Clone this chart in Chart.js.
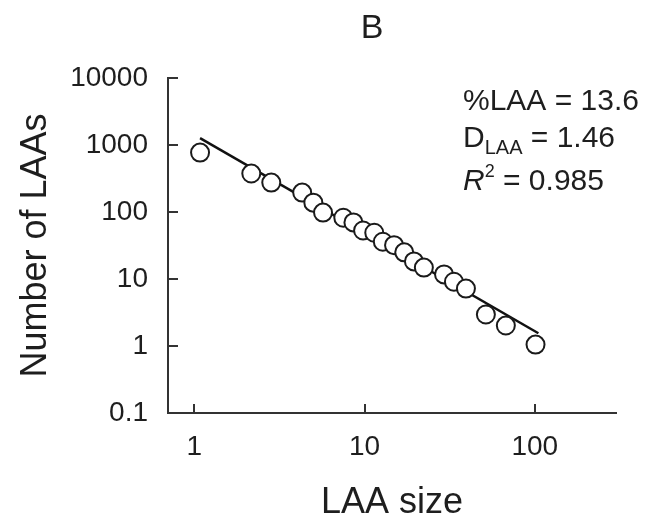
<!DOCTYPE html>
<html>
<head>
<meta charset="utf-8">
<script src="https://cdn.jsdelivr.net/npm/chart.js@4.4.1/dist/chart.umd.min.js"></script>
<style>
  html, body { margin: 0; padding: 0; background: #fff; }
  #wrap { width: 651px; height: 522px; }
</style>
</head>
<body>
<div id="wrap"><canvas id="laaChart" width="651" height="522"></canvas></div>
<script>
// LAA size distribution (log-log)
const laaSize = [1.08, 2.16, 2.83, 4.3, 5.0, 5.7, 7.5, 8.6, 9.8, 11.4, 12.8, 14.9, 17.1, 19.5, 22.3, 29.3, 33.5, 39.4, 51.6, 67.6, 101];
const laaCount = [770, 375, 275, 195, 138, 98, 82, 70, 53, 49, 36, 32, 25, 18.3, 14.8, 11.7, 9.1, 7.2, 2.95, 2.02, 1.05];

// fitted power law, end points
const fitX = [1.08, 105];
const fitY = [1270, 1.55];

const xTickVals = [1, 10, 100];
const yTickVals = [0.1, 1, 10, 100, 1000, 10000];

const panelLabel = "B";
const statLines = ["%LAA = 13.6", "1.46", "0.985"];

const FONT = "'Liberation Sans', Arial, sans-serif";
const INK = "#1e1e1e";

function fmtTick(v) {
  return v < 1 ? String(v) : String(Math.round(v));
}

// inward tick marks + panel text
const extrasPlugin = {
  id: "extras",
  afterDraw(chart) {
    const ctx = chart.ctx;
    const xs = chart.scales.x;
    const ys = chart.scales.y;
    const area = chart.chartArea;

    ctx.save();
    ctx.strokeStyle = "#333";
    ctx.lineWidth = 2;
    ctx.beginPath();
    xTickVals.forEach((v) => {
      const px = Math.round(xs.getPixelForValue(v));
      ctx.moveTo(px, area.bottom);
      ctx.lineTo(px, area.bottom - 9);
    });
    yTickVals.forEach((v) => {
      const py = Math.round(ys.getPixelForValue(v));
      ctx.moveTo(area.left, py);
      ctx.lineTo(area.left + 10, py);
    });
    ctx.stroke();

    ctx.fillStyle = INK;
    ctx.textBaseline = "middle";
    ctx.textAlign = "center";
    ctx.font = `34px ${FONT}`;
    ctx.fillText(panelLabel, 372, 29);

    ctx.textAlign = "left";
    ctx.textBaseline = "alphabetic";
    const x0 = 463;
    ctx.font = `30px ${FONT}`;
    ctx.fillText(statLines[0], x0, 110);

    // D with subscript
    let x = x0;
    ctx.font = `30px ${FONT}`;
    ctx.fillText("D", x, 147);
    x += ctx.measureText("D").width;
    ctx.font = `20px ${FONT}`;
    ctx.fillText("LAA", x, 154);
    x += ctx.measureText("LAA").width;
    ctx.font = `30px ${FONT}`;
    ctx.fillText(" = " + statLines[1], x, 147);

    // R squared
    x = x0;
    ctx.font = `italic 30px ${FONT}`;
    ctx.fillText("R", x, 190);
    x += ctx.measureText("R").width;
    ctx.font = `18px ${FONT}`;
    ctx.fillText("2", x, 177);
    x += ctx.measureText("2").width;
    ctx.font = `30px ${FONT}`;
    ctx.fillText(" = " + statLines[2], x, 190);
    ctx.restore();
  },
};

new Chart(document.getElementById("laaChart"), {
  type: "scatter",
  data: {
    datasets: [
      {
        label: "LAAs",
        data: laaSize.map((v, i) => ({ x: v, y: laaCount[i] })),
        pointStyle: "circle",
        pointRadius: 9,
        pointBorderWidth: 2,
        pointBorderColor: "#1a1a1a",
        pointBackgroundColor: "#fff",
        showLine: false,
        order: 0,
      },
      {
        label: "fit",
        data: fitX.map((v, i) => ({ x: v, y: fitY[i] })),
        showLine: true,
        borderColor: "#111",
        borderWidth: 2.5,
        pointRadius: 0,
        order: 1,
      },
    ],
  },
  options: {
    responsive: false,
    animation: false,
    devicePixelRatio: 1,
    layout: { padding: { top: 78, right: 35, bottom: 0, left: 0 } },
    plugins: {
      legend: { display: false },
      tooltip: { enabled: false },
    },
    scales: {
      x: {
        type: "logarithmic",
        min: 0.71,
        max: 300,
        afterBuildTicks: (scale) => {
          scale.ticks = xTickVals.map((v) => ({ value: v }));
        },
        afterFit: (scale) => {
          scale.height = 109;
        },
        grid: { display: false, drawTicks: false },
        border: { display: true, color: "#333", width: 2 },
        ticks: {
          padding: 17,
          color: INK,
          font: { family: FONT, size: 28 },
          maxRotation: 0,
          callback: (v) => fmtTick(v),
        },
        title: {
          display: true,
          text: "LAA size",
          color: INK,
          font: { family: FONT, size: 36, lineHeight: 1.05 },
          padding: { top: 0, bottom: 0 },
        },
      },
      y: {
        type: "logarithmic",
        min: 0.1,
        max: 10000,
        afterBuildTicks: (scale) => {
          scale.ticks = yTickVals.map((v) => ({ value: v }));
        },
        afterFit: (scale) => {
          scale.width = 168;
        },
        grid: { display: false, drawTicks: false },
        border: { display: true, color: "#333", width: 2 },
        ticks: {
          padding: 20,
          color: INK,
          font: { family: FONT, size: 28 },
          callback: (v) => fmtTick(v),
        },
        title: {
          display: true,
          text: "Number of LAAs",
          color: INK,
          font: { family: FONT, size: 36, lineHeight: 1.1 },
          padding: { top: 16, bottom: 0 },
        },
      },
    },
  },
  plugins: [extrasPlugin],
});
</script>
</body>
</html>
